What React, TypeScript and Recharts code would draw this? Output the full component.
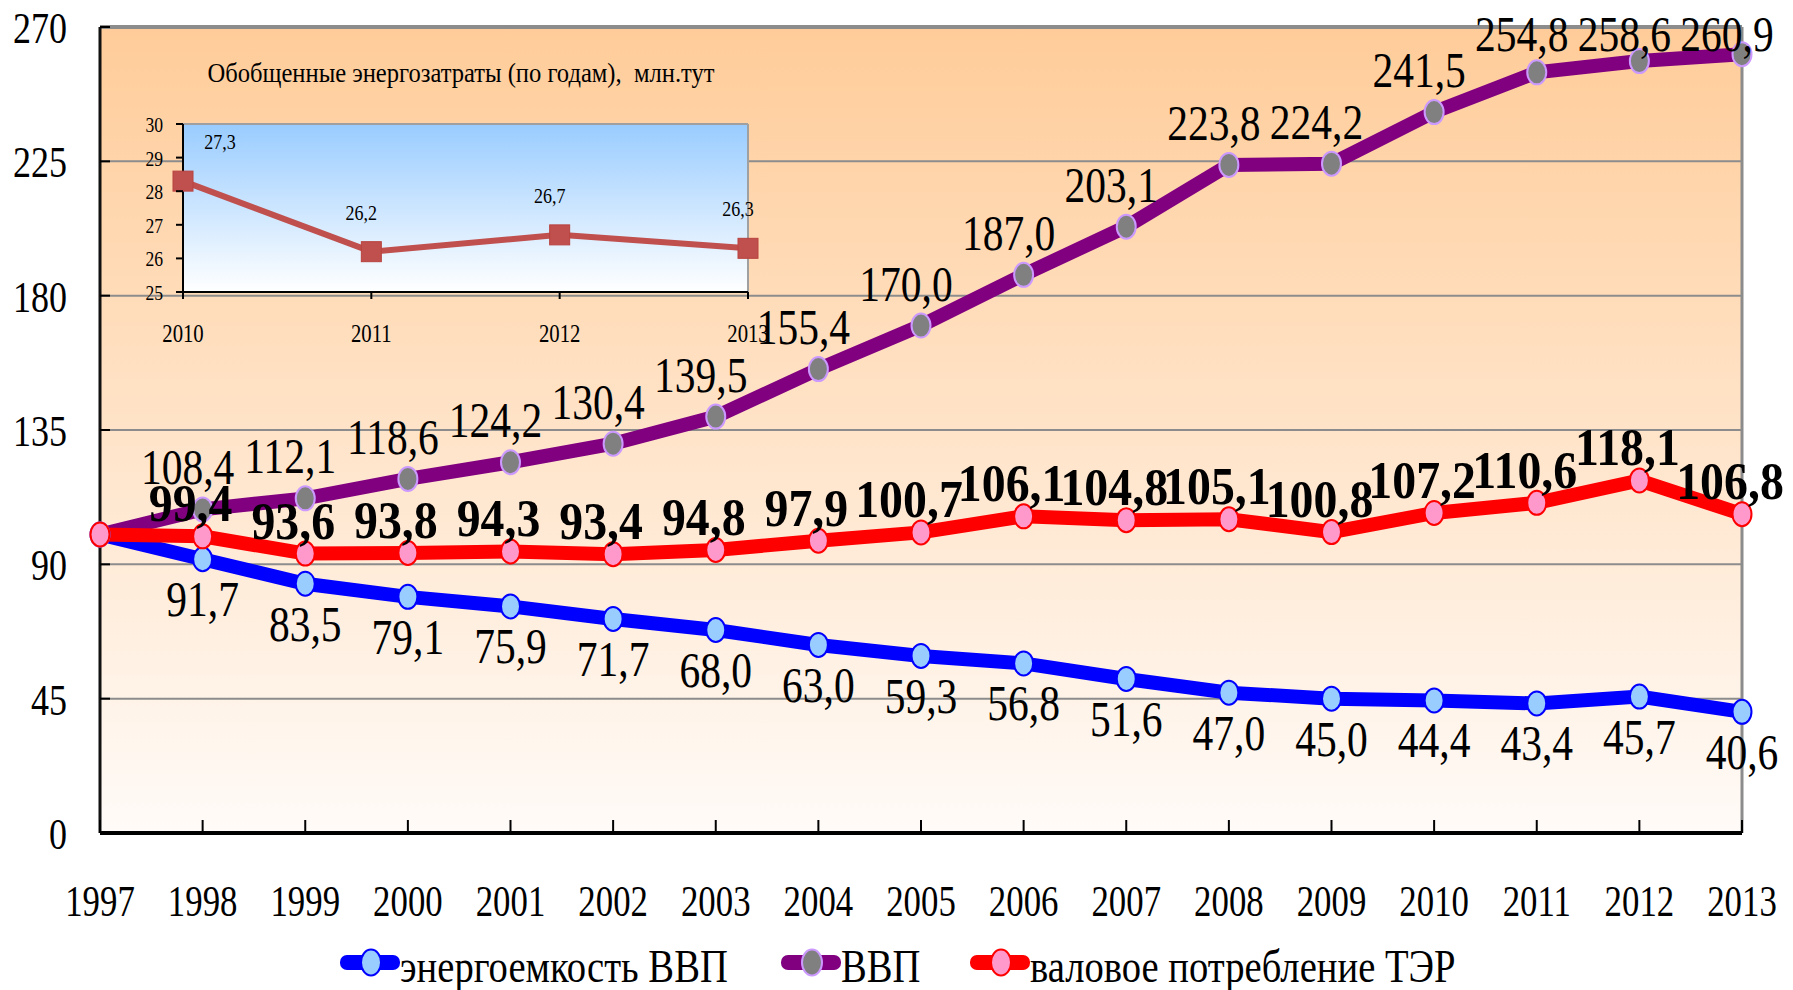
import React from "react";
import {
  CartesianGrid,
  LabelList,
  Line,
  LineChart,
  ReferenceLine,
  XAxis,
  YAxis,
} from "recharts";

const years = [
  "1997", "1998", "1999", "2000", "2001", "2002", "2003", "2004", "2005",
  "2006", "2007", "2008", "2009", "2010", "2011", "2012", "2013",
];
const energyIntensity = [
  100, 91.7, 83.5, 79.1, 75.9, 71.7, 68.0, 63.0, 59.3, 56.8, 51.6, 47.0, 45.0,
  44.4, 43.4, 45.7, 40.6,
];
const gdp = [
  100, 108.4, 112.1, 118.6, 124.2, 130.4, 139.5, 155.4, 170.0, 187.0, 203.1,
  223.8, 224.2, 241.5, 254.8, 258.6, 260.9,
];
const grossConsumption = [
  100, 99.4, 93.6, 93.8, 94.3, 93.4, 94.8, 97.9, 100.7, 106.1, 104.8, 105.1,
  100.8, 107.2, 110.6, 118.1, 106.8,
];
const yTicks = [0, 45, 90, 135, 180, 225, 270];

const insetYears = ["2010", "2011", "2012", "2013"];
const insetValues = [28.3, 26.2, 26.7, 26.3];
const insetLabels = ["27,3", "26,2", "26,7", "26,3"];
const insetTicks = [25, 26, 27, 28, 29, 30];
const insetTitle = "Обобщенные энергозатраты (по годам),  млн.тут";

const legendNames = ["энергоемкость ВВП", "ВВП", "валовое потребление ТЭР"];

const data = years.map((year, i) => ({
  year,
  intensity: energyIntensity[i],
  gdp: gdp[i],
  consumption: grossConsumption[i],
}));

const insetData = insetYears.map((year, i) => ({
  year,
  value: insetValues[i],
  label: insetLabels[i],
}));

const FONT = "'Liberation Serif', 'Times New Roman', serif";

const series = [
  { key: "intensity", line: "#0000FF", fill: "#99CCFF", edge: "#0000FF", dx: 0, dy: 57, bold: false },
  { key: "gdp", line: "#800080", fill: "#808080", edge: "#CC99FF", dx: -15, dy: -25, bold: false },
  { key: "consumption", line: "#FF0000", fill: "#FF99CC", edge: "#FF0000", dx: -12, dy: -15, bold: true },
];

const fmt = (v: number) => v.toFixed(1).replace(".", ",");

const makeDot = (fill: string, edge: string) => (props: any) => {
  const { cx, cy, index } = props;
  if (cx == null || cy == null) return <g key={index} />;
  return (
    <ellipse key={index} cx={cx} cy={cy} rx={9.5} ry={12} fill={fill} stroke={edge} strokeWidth={2} />
  );
};

const makeLabel = (dx: number, dy: number, bold: boolean) => (props: any) => {
  const { x, y, value, index } = props;
  if (index === 0 || x == null) return null;
  // keep labels inside the chart area near the top
  const ty = Math.max(y + dy, 51);
  return (
    <text
      key={index}
      transform={`translate(${x + dx},${ty}) scale(${bold ? 0.92 : 0.83},1)`}
      textAnchor="middle"
      fontFamily={FONT}
      fontSize={bold ? 52 : 50}
      fontWeight={bold ? "bold" : "normal"}
      fill="#000"
    >
      {fmt(value)}
    </text>
  );
};

const YTick = (props: any) => {
  const { x, y, payload } = props;
  return (
    <g>
      <line x1={x} x2={x + 10} y1={y} y2={y} stroke="#000" strokeWidth={2} />
      <text
        transform={`translate(${x - 33},${y + 16}) scale(0.8,1)`}
        textAnchor="end"
        fontFamily={FONT}
        fontSize={45}
        fill="#000"
      >
        {payload.value}
      </text>
    </g>
  );
};

const XTick = (props: any) => {
  const { x, y, payload } = props;
  return (
    <g>
      <line x1={x} x2={x} y1={y - 13} y2={y} stroke="#000" strokeWidth={2} />
      <text
        transform={`translate(${x},${y + 83}) scale(0.79,1)`}
        textAnchor="middle"
        fontFamily={FONT}
        fontSize={44}
        fill="#000"
      >
        {payload.value}
      </text>
    </g>
  );
};

const InsetYTick = (props: any) => {
  const { x, y, payload } = props;
  return (
    <g>
      <line x1={x - 7} x2={x} y1={y} y2={y} stroke="#000" strokeWidth={2} />
      <text
        transform={`translate(${x - 20},${y + 8}) scale(0.8,1)`}
        textAnchor="end"
        fontFamily={FONT}
        fontSize={22}
        fill="#000"
      >
        {payload.value}
      </text>
    </g>
  );
};

const InsetXTick = (props: any) => {
  const { x, y, payload } = props;
  return (
    <g>
      <line x1={x} x2={x} y1={y} y2={y + 7} stroke="#000" strokeWidth={2} />
      <text
        transform={`translate(${x},${y + 50}) scale(0.83,1)`}
        textAnchor="middle"
        fontFamily={FONT}
        fontSize={25}
        fill="#000"
      >
        {payload.value}
      </text>
    </g>
  );
};

const insetSquare = (props: any) => {
  const { cx, cy, index } = props;
  if (cx == null) return <g key={index} />;
  return <rect key={index} x={cx - 10} y={cy - 10} width={20} height={20} fill="#C0504D" stroke="#B8423F" strokeWidth={1} />;
};

const insetLabel = (props: any) => {
  const { x, y, index } = props;
  if (x == null) return null;
  const dx = index === 0 ? 37 : -10;
  return (
    <text
      key={index}
      transform={`translate(${x + dx},${y - 32}) scale(0.9,1)`}
      textAnchor="middle"
      fontFamily={FONT}
      fontSize={20}
      fill="#000"
    >
      {insetLabels[index]}
    </text>
  );
};

const legendX = [340, 781, 970];

const Legend = () => (
  <svg width={1793} height={60} style={{ position: "absolute", left: 0, top: 930 }}>
    {series.map((s, i) => (
      <g key={s.key}>
        <rect x={legendX[i]} y={25} width={60} height={15} rx={7} fill={s.line} />
        <ellipse cx={legendX[i] + 31} cy={32.5} rx={10} ry={13} fill={s.fill} stroke={s.edge} strokeWidth={2} />
        <text
          transform={`translate(${legendX[i] + 60},${52}) scale(0.84,1)`}
          fontFamily={FONT}
          fontSize={46}
          fill="#000"
        >
          {legendNames[i]}
        </text>
      </g>
    ))}
  </svg>
);

export default function App() {
  return (
    <div
      style={{
        position: "absolute",
        left: 0,
        top: 0,
        width: 1793,
        height: 990,
        background: "#fff",
        overflow: "hidden",
      }}
    >
      <LineChart width={1793} height={990} data={data} margin={{ top: 27, right: 51, bottom: 57, left: 0 }}>
        <defs>
          <linearGradient id="mainBg" x1="0" y1="0" x2="0" y2="1">
            <stop offset="0%" stopColor="#FFCC99" />
            <stop offset="100%" stopColor="#FFFBF8" />
          </linearGradient>
        </defs>
        <CartesianGrid vertical={false} stroke="#8C8C8C" strokeWidth={2} fill="url(#mainBg)" />
        <XAxis
          dataKey="year"
          height={100}
          tickSize={0}
          tickMargin={0}
          tickLine={false}
          axisLine={{ stroke: "#000", strokeWidth: 4 }}
          tick={<XTick />}
          interval={0}
        />
        <YAxis
          width={100}
          domain={[0, 270]}
          ticks={yTicks}
          tickSize={0}
          tickMargin={0}
          tickLine={false}
          axisLine={{ stroke: "#111", strokeWidth: 3 }}
          tick={<YTick />}
          interval={0}
        />
        <ReferenceLine y={270} stroke="#8C8C8C" strokeWidth={4} />
        <ReferenceLine x="2013" stroke="#8C8C8C" strokeWidth={3} />
        {series.map((s) => (
          <Line
            key={s.key}
            type="linear"
            dataKey={s.key}
            stroke={s.line}
            strokeWidth={14}
            dot={makeDot(s.fill, s.edge)}
            activeDot={false}
            isAnimationActive={false}
          >
            <LabelList dataKey={s.key} content={makeLabel(s.dx, s.dy, s.bold)} />
          </Line>
        ))}
      </LineChart>

      <div style={{ position: "absolute", left: 120, top: 40 }}>
        <LineChart width={660} height={330} data={insetData} margin={{ top: 84, right: 32, bottom: 0, left: 0 }}>
          <defs>
            <linearGradient id="insetBg" x1="0" y1="0" x2="0" y2="1">
              <stop offset="0%" stopColor="#99CCFF" />
              <stop offset="100%" stopColor="#FFFFFF" />
            </linearGradient>
          </defs>
          <CartesianGrid vertical={false} stroke="none" fill="url(#insetBg)" />
          <XAxis
            dataKey="year"
            height={78}
            tickSize={0}
            tickMargin={0}
            tickLine={false}
            axisLine={{ stroke: "#000", strokeWidth: 2 }}
            tick={<InsetXTick />}
            interval={0}
          />
          <YAxis
            width={63}
            domain={[25, 30]}
            ticks={insetTicks}
            tickSize={0}
            tickMargin={0}
            tickLine={false}
            axisLine={{ stroke: "#000", strokeWidth: 2 }}
            tick={<InsetYTick />}
            interval={0}
          />
          <ReferenceLine y={30} stroke="#A0A0A0" strokeWidth={2} />
          <ReferenceLine x="2013" stroke="#A0A0A0" strokeWidth={2} />
          <Line
            type="linear"
            dataKey="value"
            stroke="#C0504D"
            strokeWidth={6}
            dot={insetSquare}
            activeDot={false}
            isAnimationActive={false}
          >
            <LabelList dataKey="value" content={insetLabel} />
          </Line>
        </LineChart>
      </div>

      <svg width={1793} height={120} style={{ position: "absolute", left: 0, top: 0, pointerEvents: "none" }}>
        <text
          transform="translate(461,82) scale(0.91,1)"
          textAnchor="middle"
          fontFamily={FONT}
          fontSize={27}
          fill="#000"
          style={{ whiteSpace: "pre" }}
        >
          {insetTitle}
        </text>
      </svg>

      <Legend />
    </div>
  );
}
